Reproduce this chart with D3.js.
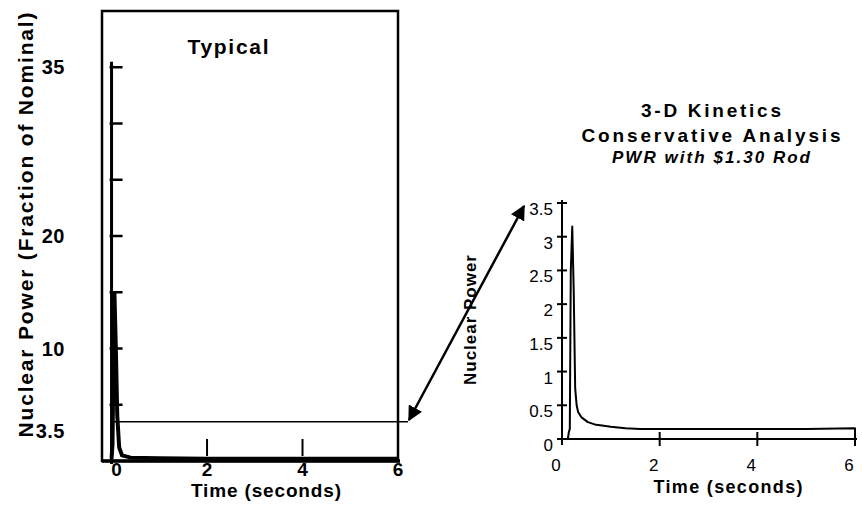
<!DOCTYPE html>
<html>
<head>
<meta charset="utf-8">
<script src="https://cdn.jsdelivr.net/npm/d3@7"></script>
<style>
  body { margin: 0; background: #fff; }
  svg text { font-family: "Liberation Sans", Arial, sans-serif; fill: #000; }
  .b { font-weight: bold; }
</style>
</head>
<body>
<svg id="chart" width="862" height="510"></svg>
<script>
// left panel ("Typical"), fraction of nominal
var typTime  = [0, 0.02, 0.04, 0.06, 0.09, 0.12, 0.16, 0.22, 0.4, 1.0, 2.0, 4.0, 6.0];
var typPower = [0.2, 1.5, 9, 15, 10, 4, 1.2, 0.5, 0.3, 0.25, 0.2, 0.2, 0.2];
var typYTicks = [5, 10, 15, 20, 25, 30, 35];
var typYLabels = ["35", "20", "10", "3.5"];
var typXTicks = [2, 4];
var typXLabels = [0, 2, 4, 6];
var zoomLevel = 3.5;

// right panel (3-D kinetics)
var kinTime  = [0, 0.12, 0.14, 0.16, 0.18, 0.21, 0.24, 0.27, 0.3, 0.33, 0.4, 0.53, 0.7, 0.82, 1.0, 1.3, 1.6, 2.0, 3.0, 4.0, 5.0, 6.0, 6.0];
var kinPower = [0, 0, 0.1, 0.15, 2.5, 3.15, 2.2, 0.75, 0.5, 0.4, 0.32, 0.25, 0.21, 0.2, 0.18, 0.16, 0.15, 0.15, 0.15, 0.15, 0.15, 0.16, 0];
var kinYTicks = [0, 0.5, 1, 1.5, 2, 2.5, 3, 3.5];
var kinYLabels = ["0", "0.5", "1", "1.5", "2", "2.5", "3", "3.5"];
var kinXTicks = [0, 2, 4, 6];

var svg = d3.select('#chart');

svg.append('defs').append('marker')
  .attr('id', 'head')
  .attr('viewBox', '0 0 10 10')
  .attr('refX', 9).attr('refY', 5)
  .attr('markerWidth', 6).attr('markerHeight', 6)
  .attr('markerUnits', 'strokeWidth')
  .attr('orient', 'auto-start-reverse')
  .append('path').attr('d', 'M0,0 L10,5 L0,10 z').attr('fill', '#000');

// ---------- left panel ----------
var xL = d3.scaleLinear().domain([-0.2, 6]).range([102, 398]);
var yL = d3.scaleLinear().domain([0, 40]).range([461, 11]);

var L = svg.append('g');

// frame
L.append('rect')
  .attr('x', xL(-0.2)).attr('y', yL(40))
  .attr('width', xL(6) - xL(-0.2)).attr('height', yL(0) - yL(40))
  .attr('fill', 'none').attr('stroke', '#000').attr('stroke-width', 2.5);
L.append('line')
  .attr('x1', xL(-0.2)).attr('x2', xL(6) + 2)
  .attr('y1', yL(0)).attr('y2', yL(0))
  .attr('stroke', '#000').attr('stroke-width', 3.5);

// y axis with right-pointing ticks
L.append('line')
  .attr('x1', xL(0)).attr('x2', xL(0))
  .attr('y1', yL(35.5)).attr('y2', yL(0) + 3)
  .attr('stroke', '#000').attr('stroke-width', 3);
L.selectAll('.ytick').data(typYTicks).enter().append('line')
  .attr('x1', xL(0) - 2).attr('x2', xL(0) + 11)
  .attr('y1', function (d) { return yL(d); })
  .attr('y2', function (d) { return yL(d); })
  .attr('stroke', '#000').attr('stroke-width', 2.5);
L.selectAll('.ylab').data(typYLabels).enter().append('text')
  .attr('class', 'b')
  .attr('x', 65)
  .attr('y', function (d) { return yL(+d) + (d === "3.5" ? 9 : 0); })
  .attr('dy', '0.35em')
  .attr('text-anchor', 'end')
  .style('font-size', '20px').style('letter-spacing', '0.5px')
  .text(function (d) { return d; });

// x ticks (short, above axis)
L.selectAll('.xtick').data(typXTicks).enter().append('line')
  .attr('x1', function (d) { return xL(d); })
  .attr('x2', function (d) { return xL(d); })
  .attr('y1', yL(0) - 22).attr('y2', yL(0) - 5)
  .attr('stroke', '#000').attr('stroke-width', 2);
L.selectAll('.xlab').data(typXLabels).enter().append('text')
  .attr('class', 'b')
  .attr('x', function (d) { return xL(d) + (d === 0 ? 5 : 0); })
  .attr('y', 476)
  .attr('text-anchor', 'middle')
  .style('font-size', '19px')
  .text(function (d) { return d; });

// zoom level line
L.append('line')
  .attr('x1', xL(0)).attr('x2', xL(6) + 10)
  .attr('y1', yL(zoomLevel)).attr('y2', yL(zoomLevel))
  .attr('stroke', '#000').attr('stroke-width', 1.5);

// curve
L.append('path')
  .datum(d3.zip(typTime, typPower))
  .attr('d', d3.line().x(function (d) { return xL(d[0]); }).y(function (d) { return yL(d[1]); }))
  .attr('fill', 'none').attr('stroke', '#000').attr('stroke-width', 4);

L.append('text').attr('class', 'b')
  .attr('x', 228).attr('y', 54).attr('text-anchor', 'middle')
  .attr('textLength', 81)
  .style('font-size', '21px')
  .text('Typical');

L.append('text').attr('class', 'b')
  .attr('transform', 'translate(33,225) rotate(-90)')
  .attr('text-anchor', 'middle')
  .attr('textLength', 425)
  .style('font-size', '21px')
  .text('Nuclear Power (Fraction of Nominal)');

L.append('text').attr('class', 'b')
  .attr('x', 266).attr('y', 497).attr('text-anchor', 'middle')
  .attr('textLength', 150)
  .style('font-size', '19px')
  .text('Time (seconds)');

// ---------- right panel ----------
var xR = d3.scaleLinear().domain([0, 6]).range([562, 855]);
var yR = d3.scaleLinear().domain([0, 3.5]).range([439, 203]);

var R = svg.append('g');

R.append('line')
  .attr('x1', xR(0)).attr('x2', xR(0))
  .attr('y1', yR(3.5) - 3).attr('y2', yR(0) + 6)
  .attr('stroke', '#000').attr('stroke-width', 2);
R.append('line')
  .attr('x1', xR(0)).attr('x2', xR(6) + 2)
  .attr('y1', yR(0)).attr('y2', yR(0))
  .attr('stroke', '#000').attr('stroke-width', 2);

R.selectAll('.ytick').data(kinYTicks).enter().append('line')
  .attr('x1', xR(0) - 5).attr('x2', xR(0) + 5)
  .attr('y1', function (d) { return yR(d); })
  .attr('y2', function (d) { return yR(d); })
  .attr('stroke', '#000').attr('stroke-width', 2);
R.selectAll('.ylab').data(kinYLabels).enter().append('text')
  .attr('x', xR(0) - 9)
  .attr('y', function (d) { return yR(+d) + 12; })
  .attr('text-anchor', 'end')
  .style('font-size', '17px')
  .text(function (d) { return d; });

R.selectAll('.xtick').data(kinXTicks.slice(1)).enter().append('line')
  .attr('x1', function (d) { return xR(d); })
  .attr('x2', function (d) { return xR(d); })
  .attr('y1', yR(0) - 7).attr('y2', yR(0) + 7)
  .attr('stroke', '#000').attr('stroke-width', 2);
R.selectAll('.xlab').data(kinXTicks).enter().append('text')
  .attr('x', function (d) { return xR(d) - 6; })
  .attr('y', 471)
  .attr('text-anchor', 'middle')
  .style('font-size', '17px')
  .text(function (d) { return d; });

R.append('path')
  .datum(d3.zip(kinTime, kinPower))
  .attr('d', d3.line().x(function (d) { return xR(d[0]); }).y(function (d) { return yR(d[1]); }))
  .attr('fill', 'none').attr('stroke', '#000').attr('stroke-width', 2)
  .attr('stroke-linejoin', 'round');

R.append('text').attr('class', 'b')
  .attr('transform', 'translate(476,320) rotate(-90)')
  .attr('text-anchor', 'middle')
  .attr('textLength', 130)
  .style('font-size', '17px')
  .text('Nuclear Power');

R.append('text').attr('class', 'b')
  .attr('x', 728).attr('y', 493).attr('text-anchor', 'middle')
  .attr('textLength', 149)
  .style('font-size', '18px')
  .text('Time (seconds)');

var titles = [
  { t: '3-D Kinetics', y: 117, w: 140, s: 19, it: false },
  { t: 'Conservative Analysis', y: 142, w: 259, s: 19, it: false },
  { t: 'PWR with $1.30 Rod', y: 163, w: 198, s: 17, it: true }
];
R.selectAll('.title').data(titles).enter().append('text')
  .attr('class', 'b')
  .attr('x', 711).attr('y', function (d) { return d.y; })
  .attr('text-anchor', 'middle')
  .attr('textLength', function (d) { return d.w; })
  .style('font-size', function (d) { return d.s + 'px'; })
  .style('font-style', function (d) { return d.it ? 'italic' : 'normal'; })
  .text(function (d) { return d.t; });

// double-headed arrow linking the two panels
svg.append('line')
  .attr('x1', 409).attr('y1', 420)
  .attr('x2', 524).attr('y2', 206)
  .attr('stroke', '#000').attr('stroke-width', 2.5)
  .attr('marker-start', 'url(#head)')
  .attr('marker-end', 'url(#head)');
</script>
</body>
</html>
